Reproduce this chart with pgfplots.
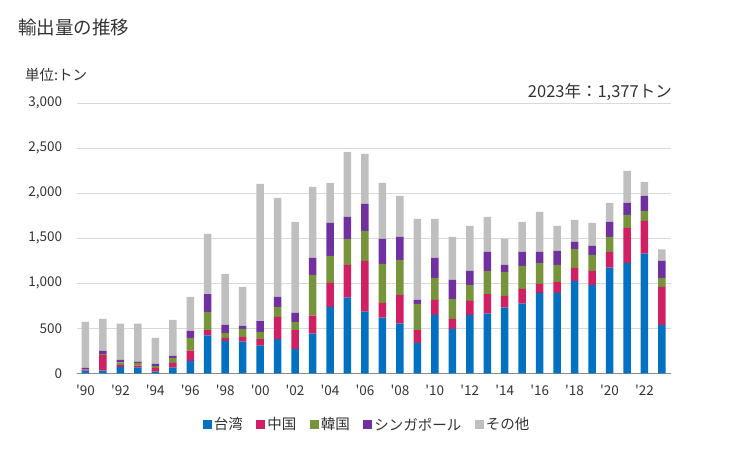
\documentclass[border=0pt]{standalone}
\usepackage{pgfplots}
\pgfplotsset{compat=1.18}
\usepackage{pgfplotstable}
\usepackage{fontspec}
\setmainfont{Noto Sans CJK JP}[Ligatures=TeXOff]
\definecolor{cTW}{HTML}{0070C0}
\definecolor{cCN}{HTML}{D01F63}
\definecolor{cKR}{HTML}{77933C}
\definecolor{cSG}{HTML}{7030A0}
\definecolor{cOT}{HTML}{BFBFBF}
\definecolor{txt}{HTML}{333333}
\pgfplotstableread{
x tw cn kr sg ot
0 30 14 5 10 511
1 30 174 11 33 356
2 70 23 29 26 404
3 63 22 30 15 422
4 19 40 22 23 289
5 63 52 55 23 400
6 137 115 141 77 378
7 422 59 201 199 667
8 359 34 55 89 567
9 352 52 89 33 433
10 307 74 78 122 1523
11 381 245 111 111 1100
12 270 211 89 100 1012
13 441 200 452 189 789
14 737 267 300 366 445
15 841 363 289 244 722
16 685 563 334 300 555
17 619 163 433 278 622
18 552 318 389 256 455
19 337 144 289 45 900
20 648 167 244 223 433
21 493 111 222 211 478
22 648 156 177 156 500
23 663 218 256 211 389
24 730 129 267 78 289
25 774 163 256 155 334
26 893 100 233 122 445
27 893 122 189 155 278
28 1026 144 212 77 245
29 982 155 178 100 255
30 1174 174 167 167 211
31 1226 389 144 134 355
32 1330 363 111 166 156
33 537 422 100 189 129
}\data
\begin{document}
\begin{tikzpicture}[x=1pt,y=1pt]
\path[use as bounding box] (0,0) rectangle (729,450);
\node[anchor=west,font=\fontsize{18.5}{20}\selectfont,text=txt,inner sep=0pt] at (18,423) {輸出量の推移};
\node[anchor=west,font=\fontsize{14.5}{16}\selectfont,text=txt,inner sep=0pt] at (25,375) {単位:トン};
\node[anchor=east,font=\fontsize{16.5}{18}\selectfont,text=txt,inner sep=0pt] at (672,358) {2023年：1,377トン};
\begin{axis}[
  at={(76.7pt,76.7pt)}, anchor=south west,
  scale only axis, width=594pt, height=270pt,
  ybar stacked, bar width=7.5pt,
  xmin=-0.5, xmax=33.5, ymin=0, ymax=3000,
  xtick={0,2,...,32},
  xticklabels={'90,'92,'94,'96,'98,'00,'02,'04,'06,'08,'10,'12,'14,'16,'18,'20,'22},
  ytick={0,500,...,3000},
  /pgf/number format/assume math mode=true,
  /pgf/number format/1000 sep={,},
  scaled y ticks=false,
  ymajorgrids, grid style={draw=black!15, line width=0.8pt},
  axis x line*=bottom, axis y line*=left,
  y axis line style={draw=none},
  x axis line style={draw=black!45, line width=0.8pt, -},
  major tick length=0pt,
  tick label style={font=\fontsize{13.5}{15}\selectfont, text=txt},
  yticklabel style={xshift=-11pt},
  xticklabel style={yshift=-8pt},
  legend style={at={(0.489,-0.19)}, anchor=center, draw=none, legend columns=-1,
    font=\fontsize{14.5}{16}\selectfont, text=txt, /tikz/every even column/.append style={column sep=11.5pt}},
  legend image code/.code={\fill[#1] (0pt,-4.5pt) rectangle (9pt,4.5pt);},
  every axis plot/.append style={draw=none},
]
\addplot[fill=cTW] table[x=x,y=tw] {\data};
\addplot[fill=cCN] table[x=x,y=cn] {\data};
\addplot[fill=cKR] table[x=x,y=kr] {\data};
\addplot[fill=cSG] table[x=x,y=sg] {\data};
\addplot[fill=cOT] table[x=x,y=ot] {\data};
\legend{台湾,中国,韓国,シンガポール,その他}
\end{axis}
\end{tikzpicture}
\end{document}
